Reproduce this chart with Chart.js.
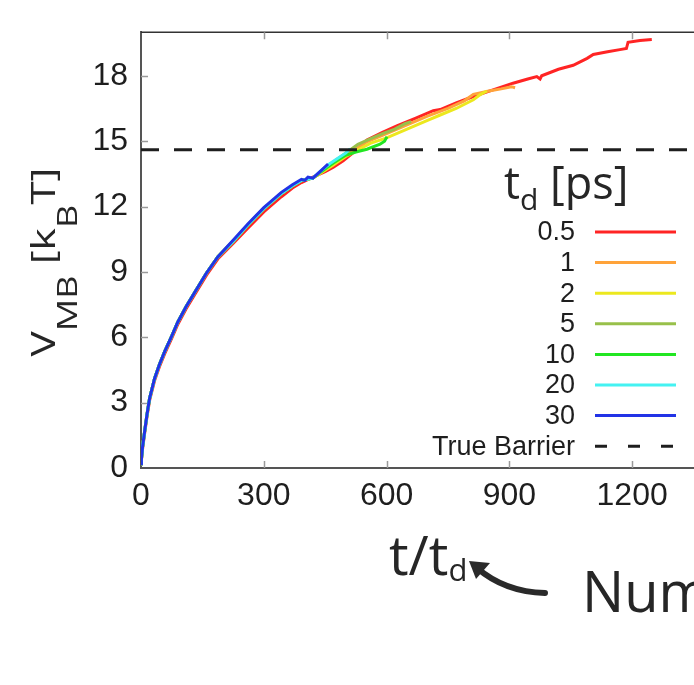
<!DOCTYPE html>
<html>
<head>
<meta charset="utf-8">
<script src="https://cdn.jsdelivr.net/npm/chart.js@4.4.1/dist/chart.umd.min.js"></script>
<style>
  html, body { margin: 0; padding: 0; background: #fff; overflow: hidden; }
  #wrap { position: relative; width: 740px; height: 685px; }
</style>
</head>
<body>
<div id="wrap"><canvas id="mbChart"></canvas></div>
<script>
// t/t_d (x) and V_MB [k_B T] (y) for each t_d
const TD_LABELS = ["0.5", "1", "2", "5", "10", "20", "30"];
const TD_COLORS = ["#ff2424", "#ffa33a", "#ece81e", "#98c04a", "#22e622", "#44f2f2", "#2233e6"];

const T05_X = [0, 1, 4, 9, 15, 21, 33, 45, 58, 75, 90, 110, 131, 160, 188, 225, 261, 300, 343, 370, 392, 420, 450, 470, 494, 520, 552, 590, 625, 670, 714, 731, 770, 812, 860, 909, 945, 967, 975, 979, 1020, 1056, 1090, 1105, 1140, 1170, 1186, 1190, 1219, 1248];
const T05_Y = [0.2, 0.35, 0.9, 1.6, 2.4, 3.1, 4.0, 4.65, 5.25, 5.95, 6.6, 7.3, 7.95, 8.85, 9.6, 10.3, 11.0, 11.75, 12.45, 12.85, 13.1, 13.35, 13.6, 13.8, 14.1, 14.5, 15.05, 15.4, 15.7, 16.05, 16.4, 16.45, 16.75, 17.05, 17.35, 17.66, 17.85, 17.96, 17.85, 18.0, 18.3, 18.48, 18.8, 18.98, 19.1, 19.2, 19.25, 19.54, 19.62, 19.66];

const T1_X = [0, 1, 4, 9, 15, 21, 33, 45, 58, 75, 90, 110, 131, 160, 188, 225, 261, 300, 343, 370, 392, 420, 440, 470, 510, 550, 600, 650, 700, 750, 790, 812, 850, 880, 905, 914];
const T1_Y = [0.2, 0.4, 1.0, 1.7, 2.5, 3.2, 4.1, 4.75, 5.35, 6.05, 6.7, 7.4, 8.05, 8.95, 9.7, 10.4, 11.15, 11.9, 12.6, 12.95, 13.2, 13.3, 13.55, 13.95, 14.45, 14.95, 15.35, 15.75, 16.15, 16.5, 16.85, 17.15, 17.3, 17.4, 17.5, 17.45];

const T2_X = [0, 1, 4, 9, 15, 21, 33, 45, 58, 75, 90, 110, 131, 160, 188, 225, 261, 300, 343, 370, 392, 420, 440, 470, 500, 530, 560, 600, 650, 700, 731, 770, 812, 830, 845];
const T2_Y = [0.2, 0.4, 1.0, 1.7, 2.5, 3.2, 4.1, 4.75, 5.35, 6.05, 6.7, 7.4, 8.05, 8.95, 9.7, 10.4, 11.15, 11.9, 12.6, 12.95, 13.2, 13.3, 13.55, 13.9, 14.3, 14.6, 14.9, 15.15, 15.55, 15.95, 16.2, 16.5, 16.9, 17.15, 17.3];

const T5_X = [0, 1, 4, 9, 15, 21, 33, 45, 58, 75, 90, 110, 131, 160, 188, 225, 261, 300, 343, 370, 392, 420, 440, 470, 500, 530, 560, 590, 620, 645, 660];
const T5_Y = [0.2, 0.4, 1.0, 1.7, 2.5, 3.2, 4.1, 4.75, 5.35, 6.05, 6.7, 7.4, 8.05, 8.95, 9.7, 10.4, 11.15, 11.9, 12.6, 12.95, 13.2, 13.3, 13.6, 14.05, 14.45, 14.85, 15.1, 15.35, 15.55, 15.8, 15.9];

const T10_X = [0, 1, 4, 9, 15, 21, 33, 45, 58, 75, 90, 110, 131, 160, 188, 225, 261, 300, 343, 370, 392, 420, 440, 470, 500, 525, 552, 584, 595, 601];
const T10_Y = [0.2, 0.4, 1.0, 1.7, 2.5, 3.2, 4.1, 4.75, 5.35, 6.05, 6.7, 7.4, 8.05, 8.95, 9.7, 10.4, 11.15, 11.9, 12.6, 12.95, 13.2, 13.3, 13.6, 14.0, 14.35, 14.5, 14.63, 14.86, 15.0, 15.2];

const T20_X = [0, 1, 4, 9, 15, 21, 33, 45, 58, 75, 90, 110, 131, 160, 188, 225, 261, 300, 343, 370, 392, 420, 440, 460, 480, 500, 511];
const T20_Y = [0.2, 0.4, 1.0, 1.7, 2.5, 3.2, 4.1, 4.75, 5.35, 6.05, 6.7, 7.4, 8.05, 8.95, 9.7, 10.4, 11.15, 11.9, 12.6, 12.95, 13.2, 13.3, 13.65, 13.95, 14.2, 14.45, 14.65];

const T30_X = [0, 1, 4, 9, 15, 21, 33, 45, 58, 75, 90, 110, 131, 160, 188, 225, 261, 300, 343, 370, 392, 400, 408, 420, 440, 457];
const T30_Y = [0.2, 0.4, 1.0, 1.7, 2.5, 3.2, 4.1, 4.75, 5.35, 6.05, 6.7, 7.4, 8.05, 8.95, 9.7, 10.45, 11.2, 11.95, 12.65, 13.0, 13.25, 13.2, 13.35, 13.3, 13.65, 13.95];

const TRUE_BARRIER = 14.6;
const X_TICKS = [0, 300, 600, 900, 1200];
const Y_TICKS = [0, 3, 6, 9, 12, 15, 18];
const X_MAX = 1400;
const Y_MAX = 20;

const SERIES_X = [T05_X, T1_X, T2_X, T5_X, T10_X, T20_X, T30_X];
const SERIES_Y = [T05_Y, T1_Y, T2_Y, T5_Y, T10_Y, T20_Y, T30_Y];

const SANS = "'Liberation Sans', Arial, sans-serif";
const TITLE_FONT = "'Open Sans', sans-serif";
const INK = "#262626";

function toPoints(xs, ys){
  return xs.map((x, i) => ({ x: x, y: ys[i] }));
}

// text with subscripts: parts = [{t, size, dy}]
function drawRich(ctx, parts, x, y, stretch){
  let w = 0;
  parts.forEach(p => {
    ctx.font = p.size + "px " + TITLE_FONT;
    p.w = ctx.measureText(p.t).width;
    w += p.w;
  });
  ctx.save();
  ctx.translate(x, y);
  if(stretch) ctx.scale(stretch / w, 1);
  let cx = stretch ? -w / 2 : 0;
  parts.forEach(p => {
    ctx.font = p.size + "px " + TITLE_FONT;
    ctx.fillText(p.t, cx, p.dy || 0);
    cx += p.w;
  });
  ctx.restore();
}

const datasets = TD_LABELS.map((lab, i) => ({
  label: lab,
  data: toPoints(SERIES_X[i], SERIES_Y[i]),
  borderColor: TD_COLORS[i],
  borderWidth: 3,
  showLine: true,
  pointRadius: 0,
  tension: 0,
  order: TD_LABELS.length - i + 1
}));

datasets.push({
  label: "True Barrier",
  data: [{ x: 0, y: TRUE_BARRIER }, { x: X_MAX, y: TRUE_BARRIER }],
  borderColor: "#1e1e1e",
  borderWidth: 3,
  borderDash: [18, 15],
  showLine: true,
  pointRadius: 0,
  order: 0
});

const decorPlugin = {
  id: "decor",
  beforeDatasetsDraw(chart){
    const ctx = chart.ctx;
    const a = chart.chartArea;
    const xs = chart.scales.x, ys = chart.scales.y;
    ctx.save();
    // top frame
    ctx.strokeStyle = "#333";
    ctx.lineWidth = 1.5;
    ctx.beginPath();
    ctx.moveTo(a.left, a.top);
    ctx.lineTo(a.right, a.top);
    ctx.stroke();
    // inward tick marks
    ctx.strokeStyle = "#9a9a9a";
    ctx.lineWidth = 1.5;
    ctx.beginPath();
    Y_TICKS.slice(1).forEach(v => {
      const py = Math.round(ys.getPixelForValue(v)) + 0.5;
      ctx.moveTo(a.left, py);
      ctx.lineTo(a.left + 7, py);
    });
    X_TICKS.slice(1).forEach(v => {
      const px = Math.round(xs.getPixelForValue(v)) + 0.5;
      ctx.moveTo(px, a.bottom);
      ctx.lineTo(px, a.bottom - 7);
      ctx.moveTo(px, a.top);
      ctx.lineTo(px, a.top + 7);
    });
    ctx.stroke();
    ctx.restore();
  },
  afterDraw(chart){
    const ctx = chart.ctx;
    ctx.save();
    ctx.fillStyle = INK;
    ctx.textBaseline = "alphabetic";
    ctx.textAlign = "left";

    // y title, rotated
    ctx.save();
    ctx.translate(55, 262);
    ctx.rotate(-Math.PI / 2);
    drawRich(ctx, [
      { t: "V", size: 33 },
      { t: "MB", size: 28, dy: 22 },
      { t: " [k", size: 33 },
      { t: "B", size: 28, dy: 22 },
      { t: "T]", size: 33 }
    ], 0, 0, 189);
    ctx.restore();

    // x title
    drawRich(ctx, [
      { t: "t/t", size: 55 },
      { t: "d", size: 31, dy: 6 }
    ], 389, 575);

    // legend title
    drawRich(ctx, [
      { t: "t", size: 45 },
      { t: "d", size: 30, dy: 11 },
      { t: " [ps]", size: 45 }
    ], 504, 199);

    // legend rows
    const rowY = 232, rowGap = 30.6;
    ctx.font = "27px " + SANS;
    ctx.textAlign = "right";
    ctx.textBaseline = "middle";
    chart.data.datasets.forEach((ds, i) => {
      const y = rowY + i * rowGap;
      ctx.fillStyle = "#1e1e1e";
      ctx.fillText(ds.label, 575, y + 1);
      ctx.strokeStyle = ds.borderColor;
      ctx.lineWidth = 3;
      ctx.setLineDash(ds.borderDash ? [12, 21] : []);
      ctx.beginPath();
      ctx.moveTo(595, y);
      ctx.lineTo(676, y);
      ctx.stroke();
    });
    ctx.setLineDash([]);

    // annotation arrow
    ctx.strokeStyle = "#2a2a2a";
    ctx.fillStyle = "#2a2a2a";
    ctx.lineWidth = 6;
    ctx.lineCap = "round";
    ctx.beginPath();
    ctx.moveTo(545, 593);
    ctx.quadraticCurveTo(505, 592, 477, 568);
    ctx.stroke();
    ctx.beginPath();
    ctx.moveTo(469, 561);
    ctx.lineTo(490, 563);
    ctx.lineTo(476, 579);
    ctx.closePath();
    ctx.fill();

    ctx.fillStyle = INK;
    ctx.textAlign = "left";
    ctx.textBaseline = "alphabetic";
    ctx.font = "56px " + TITLE_FONT;
    ctx.fillText("Num", 582, 612);
    ctx.restore();
  }
};

new Chart(document.getElementById("mbChart"), {
  type: "scatter",
  data: { datasets: datasets },
  plugins: [decorPlugin],
  options: {
    responsive: true,
    maintainAspectRatio: false,
    animation: false,
    layout: { padding: { top: 28, right: 26, left: 0, bottom: 0 } },
    plugins: {
      legend: { display: false },
      tooltip: { enabled: false }
    },
    scales: {
      x: {
        type: "linear",
        min: 0,
        max: X_MAX,
        afterFit: s => { s.height = 217; },
        afterBuildTicks: s => { s.ticks = X_TICKS.map(v => ({ value: v })); },
        grid: { display: false, drawTicks: false },
        border: { display: true, color: "#555", width: 2 },
        ticks: {
          padding: 9,
          color: "#1e1e1e",
          font: { family: SANS, size: 32 },
          callback: v => String(v)
        }
      },
      y: {
        type: "linear",
        min: 0,
        max: Y_MAX,
        afterFit: s => { s.width = 141; },
        afterBuildTicks: s => { s.ticks = Y_TICKS.map(v => ({ value: v })); },
        grid: { display: false, drawTicks: false },
        border: { display: true, color: "#555", width: 2 },
        ticks: {
          padding: 13,
          color: "#1e1e1e",
          font: { family: SANS, size: 32 },
          callback: v => String(v)
        }
      }
    }
  }
});
</script>
</body>
</html>
